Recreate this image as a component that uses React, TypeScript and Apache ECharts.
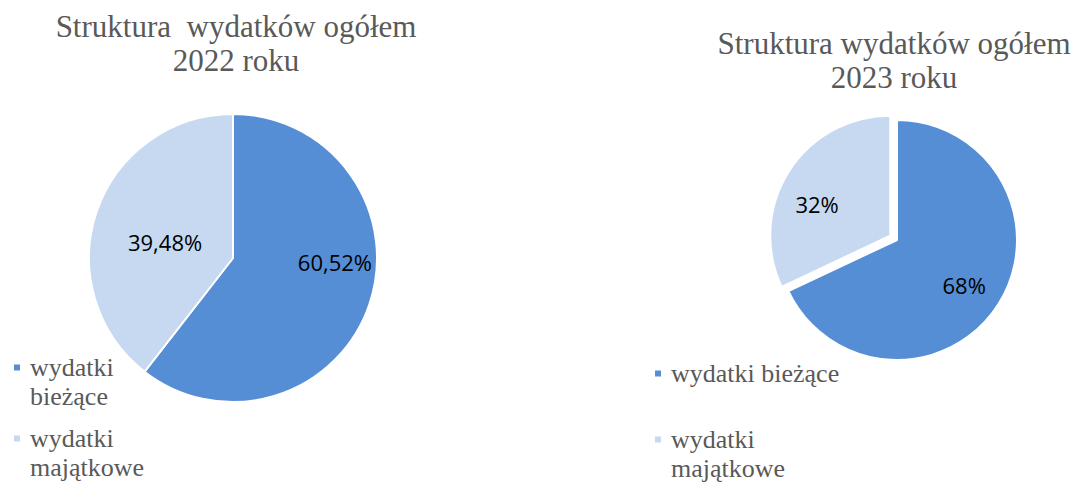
import React, { useEffect, useRef } from "react";
import * as echarts from "echarts";

const categories = ["wydatki bieżące", "wydatki majątkowe"];
const legendLabels = [
  [["wydatki", "bieżące"], ["wydatki", "majątkowe"]],
  [["wydatki bieżące"], ["wydatki", "majątkowe"]],
];
const values2022 = [60.52, 39.48];
const values2023 = [68, 32];
const titles = ["Struktura  wydatków ogółem\n2022 roku", "Struktura wydatków ogółem\n2023 roku"];
const colors = ["#558ED5", "#C6D9F1"];

const fmt = (v: number) => String(v).replace(".", ",") + "%";

export default function App() {
  const ref = useRef<HTMLDivElement>(null);
  useEffect(() => {
    if (!ref.current) return;
    const chart = echarts.init(ref.current, undefined, { renderer: "svg" });
    const titleStyle = {
      fontFamily: "Liberation Serif",
      fontSize: 31,
      fontWeight: "normal" as const,
      color: "#595959",
      lineHeight: 34,
    };
    const legendText = {
      fontFamily: "Liberation Serif",
      fontSize: 26,
      lineHeight: 29,
      color: "#595959",
      rich: {
        t: {
          fontFamily: "Liberation Serif",
          fontSize: 26,
          lineHeight: 29,
          color: "#595959",
          padding: [0, 0, 0, 4],
        },
      },
    };
    const legendPos = [
      [{ left: 12, top: 324 }, { left: 12, top: 395 }],
      [{ left: 653, top: 359 }, { left: 653, top: 396 }],
    ];
    const legends: any[] = [];
    [0, 1].forEach((s) => {
      [0, 1].forEach((i) => {
        const lines = legendLabels[s][i];
        const text =
          lines.length > 1
            ? ["{t|\u00a0}", ...lines.map((l) => `{t|${l}}`)].join("\n")
            : `{t|${lines[0]}}`;
        legends.push({
          ...legendPos[s][i],
          padding: 0,
          orient: "vertical",
          icon: "rect",
          itemWidth: 8,
          itemHeight: 8,
          selectedMode: false,
          data: [{ name: categories[i], itemStyle: { color: colors[i] } }],
          formatter: () => text,
          textStyle: legendText,
        });
      });
    });
    const labelShift: Record<string, [number, number]> = {
      "0-0": [31, -20],
      "0-1": [3, 8],
      "1-0": [14, 11],
      "1-1": [-20, 2],
    };
    const labelStyle = {
      show: true,
      position: "inside" as const,
      fontFamily: "Open Sans",
      fontSize: 22,
      color: "#000000",
      formatter: (p: any) => fmt(p.value),
    };
    const layout = (p: any) => {
      const d = labelShift[`${p.seriesIndex}-${p.dataIndex}`] || [0, 0];
      return { dx: d[0], dy: d[1] };
    };
    chart.setOption({
      animation: false,
      backgroundColor: "#ffffff",
      title: [
        { text: titles[0], left: 236, top: 9, padding: 0, textAlign: "center", textStyle: titleStyle },
        { text: titles[1], left: 894, top: 26, padding: 0, textAlign: "center", textStyle: titleStyle },
      ],
      legend: legends,
      series: [
        {
          type: "pie",
          center: [233, 258],
          radius: 144,
          startAngle: 90,
          clockwise: true,
          data: categories.map((c, i) => ({ name: c, value: values2022[i], itemStyle: { color: colors[i] } })),
          itemStyle: { borderColor: "#ffffff", borderWidth: 2 },
          label: labelStyle,
          labelLine: { show: false },
          emphasis: { disabled: true },
          labelLayout: layout,
        },
        {
          type: "pie",
          center: [897, 240],
          radius: 120,
          startAngle: 90,
          clockwise: true,
          selectedMode: "single",
          selectedOffset: 8,
          data: categories.map((c, i) => ({
            name: c,
            value: values2023[i],
            selected: i === 1,
            itemStyle: { color: colors[i] },
          })),
          itemStyle: { borderColor: "#ffffff", borderWidth: 2 },
          label: labelStyle,
          labelLine: { show: false },
          emphasis: { disabled: true },
          select: { itemStyle: { color: colors[1], borderColor: "#ffffff", borderWidth: 2 } },
          labelLayout: layout,
        },
      ],
    });
    return () => chart.dispose();
  }, []);
  return (
    <div
      ref={ref}
      style={{ position: "absolute", left: 0, top: 0, width: 1081, height: 483 }}
    />
  );
}
